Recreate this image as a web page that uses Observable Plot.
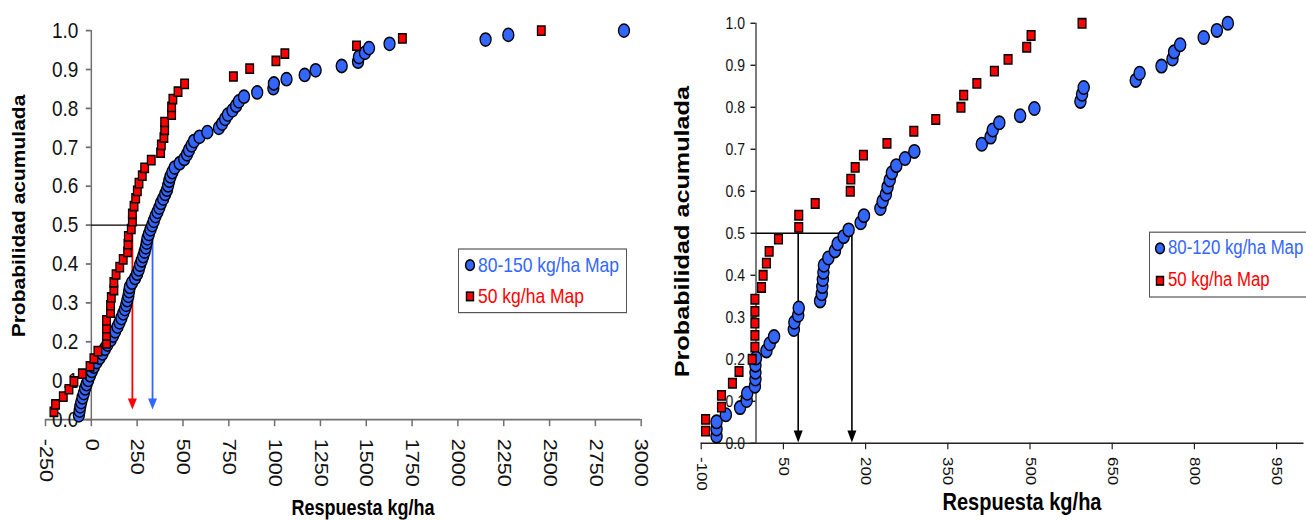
<!DOCTYPE html>
<html><head><meta charset="utf-8">
<script src="https://cdn.jsdelivr.net/npm/d3@7"></script>
<script src="https://cdn.jsdelivr.net/npm/@observablehq/plot@0.6"></script>
<style>
html,body{margin:0;padding:0;background:#fff;overflow:hidden;width:1306px;height:520px;}
#wrap{position:absolute;left:0;top:0;width:1306px;height:433.333px;transform:scaleY(1.2);transform-origin:0 0;font-family:"Liberation Sans",Arial,Helvetica,sans-serif;overflow:hidden;}
.title{position:absolute;font-weight:bold;white-space:nowrap;line-height:1;color:#000;}
.legend{position:absolute;border:1px solid #555;background:#fff;}
.item{position:absolute;white-space:nowrap;line-height:1;}
</style></head>
<body><div id="wrap"></div>
<script>
// ---------------- data ----------------
// Left panel: cumulative probability of response (kg/ha)
const leftBlueX = [-68,-64,-60,-55,-48,-41,-34,-26,-17,-7,
  3,14,29,45,61,74,88,106,119,130,
  143,154,164,174,183,190,196,202,206,210,
  222,239,250,259,266,275,283,291,297,302,
  306,314,323,332,341,350,361,371,380,392,
  403,413,419,425,432,442,455,482,507,522,
  533,547,560,590,633,696,714,730,745,770,
  790,805,833,905,993,996,1065,1164,1224,1366,
  1455,1460,1493,1515,1627,2151,2275,2906];
const leftBlueP = [0.011,0.023,0.034,0.045,0.057,0.068,0.080,0.091,0.102,0.114,
  0.125,0.136,0.148,0.159,0.170,0.182,0.193,0.205,0.216,0.227,
  0.239,0.250,0.261,0.273,0.284,0.295,0.307,0.318,0.330,0.341,
  0.352,0.364,0.375,0.386,0.398,0.409,0.420,0.432,0.443,0.455,
  0.466,0.477,0.489,0.500,0.511,0.523,0.534,0.545,0.557,0.568,
  0.580,0.591,0.602,0.614,0.625,0.636,0.648,0.659,0.670,0.682,
  0.693,0.705,0.716,0.727,0.739,0.750,0.761,0.773,0.784,0.795,
  0.807,0.818,0.830,0.841,0.852,0.864,0.875,0.886,0.898,0.909,
  0.920,0.932,0.943,0.955,0.966,0.977,0.989,1.000];
const leftRedX = [-204,-195,-153,-122,-95,-49,-7,14,36,83,
  83,83,83,105,105,109,123,123,135,155,
  174,198,200,202,218,224,224,233,242,251,
  260,278,291,327,378,382,396,400,400,438,
  438,445,473,509,775,864,1007,1056,1447,1697,2455];
const leftRedP = [0.020,0.039,0.059,0.078,0.098,0.118,0.137,0.157,0.176,0.196,
  0.216,0.235,0.255,0.275,0.294,0.314,0.333,0.353,0.373,0.392,
  0.412,0.431,0.451,0.471,0.490,0.510,0.529,0.549,0.569,0.588,
  0.608,0.627,0.647,0.667,0.686,0.706,0.725,0.745,0.765,0.784,
  0.804,0.824,0.843,0.863,0.882,0.902,0.922,0.941,0.961,0.980,1.000];
const leftMedians = [224, 334];          // red, blue
const leftXTicks = [-250,0,250,500,750,1000,1250,1500,1750,2000,2250,2500,2750,3000];

// Right panel
const rightBlueX = [-72,-72,-72,-55,-29,-17,-16,-2,-1,-1,
  -1,0,19,25,33,69,70,77,78,117,
  120,121,122,123,124,132,144,149,160,169,
  191,197,227,231,237,240,244,248,256,272,
  289,412,428,432,444,482,508,592,595,598,
  693,700,740,760,763,774,817,841,861];
const rightBlueP = [0.017,0.034,0.051,0.068,0.085,0.102,0.119,0.136,0.153,0.169,
  0.186,0.203,0.220,0.237,0.254,0.271,0.288,0.305,0.322,0.339,
  0.356,0.373,0.390,0.407,0.424,0.441,0.458,0.475,0.492,0.508,
  0.525,0.542,0.559,0.576,0.593,0.610,0.627,0.644,0.661,0.678,
  0.695,0.712,0.729,0.746,0.763,0.780,0.797,0.814,0.831,0.847,
  0.864,0.881,0.898,0.915,0.932,0.949,0.966,0.983,1.000];
const rightRedX = [-92,-92,-63,-63,-43,-31,-7,-2,-2,-2,
  -2,-2,10,13,19,24,41,78,78,108,
  172,173,181,196,239,288,328,374,379,403,
  435,460,494,502,595];
const rightRedP = [0.029,0.057,0.086,0.114,0.143,0.171,0.200,0.229,0.257,0.286,
  0.314,0.343,0.371,0.400,0.429,0.457,0.486,0.514,0.543,0.571,
  0.600,0.629,0.657,0.686,0.714,0.743,0.771,0.800,0.829,0.857,
  0.886,0.914,0.943,0.971,1.000];
const rightMedians = [77, 175];          // 50 kg/ha, 80-120 kg/ha
const rightXTicks = [-100,50,200,350,500,650,800,950];

const yTicks = [0,0.1,0.2,0.3,0.4,0.5,0.6,0.7,0.8,0.9,1.0];
const yTickLabels = ["0.0","0.1","0.2","0.3","0.4","0.5","0.6","0.7","0.8","0.9","1.0"];
const leftLegend = ["80-150 kg/ha Map", "50 kg/ha Map"];
const rightLegend = ["80-120 kg/ha Map", "50 kg/ha Map"];
const yTitle = "Probabilidad acumulada";
const xTitle = "Respuesta kg/ha";

// ---------------- drawing ----------------
const H = 433.333;
const FONT = '"Liberation Sans", Arial, Helvetica, sans-serif';
const BLUE = "#3366ff", RED = "#ff0000";
const wrap = document.getElementById("wrap");
const zip = (xs, ps) => xs.map((x, i) => ({x, p: ps[i]}));

function downTri(w, h) {
  return {draw(ctx) { ctx.moveTo(0, 0); ctx.lineTo(-w / 2, -h); ctx.lineTo(w / 2, -h); ctx.closePath(); }};
}

function panel(cfg) {
  const blue = zip(cfg.blueX, cfg.blueP);
  const red = zip(cfg.redX, cfg.redP);
  const tickStyle = {stroke: cfg.axisColor, strokeWidth: cfg.axisWidth};
  const marks = [
    Plot.ruleY([0], tickStyle),
    Plot.ruleX([0], {y1: 0, y2: 1, ...tickStyle}),
    Plot.ruleY(yTicks, {y: d => d, x1: 0, x2: 0, insetLeft: -5, ...tickStyle}),
    Plot.text(yTicks, {x: 0, y: d => d, text: (d, i) => yTickLabels[i], textAnchor: "end", dx: cfg.yLabelDx, fontSize: cfg.yFont, fill: "#111"}),
    Plot.axisX(cfg.xTicks, {tickFormat: d => String(d), tickRotate: 90, tickSize: cfg.tickSize, tickPadding: cfg.tickPadding, fontSize: cfg.xFont, label: null, stroke: cfg.axisColor, strokeWidth: cfg.axisWidth, fill: "#111"}),
    Plot.ruleY([0.5], {x1: 0, x2: cfg.medians[1], stroke: "#000", strokeWidth: 1.2}),
    Plot.ruleX([cfg.medians[0]], {y1: 0.5, y2: cfg.tip + 0.01, stroke: cfg.arrowColors[0], strokeWidth: cfg.arrowWidth}),
    Plot.ruleX([cfg.medians[1]], {y1: 0.5, y2: cfg.tip + 0.01, stroke: cfg.arrowColors[1], strokeWidth: cfg.arrowWidth}),
    Plot.dot([cfg.medians[0]], {x: d => d, y: cfg.tip, symbol: downTri(cfg.headW, cfg.headH), r: 4, fill: cfg.arrowColors[0], stroke: "none"}),
    Plot.dot([cfg.medians[1]], {x: d => d, y: cfg.tip, symbol: downTri(cfg.headW, cfg.headH), r: 4, fill: cfg.arrowColors[1], stroke: "none"}),
    Plot.dot(blue, {x: "x", y: "p", r: cfg.dotR, fill: BLUE, stroke: "#000", strokeWidth: 1.3}),
    Plot.dot(red, {x: "x", y: "p", symbol: "square", r: cfg.sqR, fill: RED, stroke: "#000", strokeWidth: 1.3})
  ];
  const svg = Plot.plot({
    width: cfg.width, height: H,
    marginLeft: cfg.mL, marginRight: cfg.mR, marginTop: cfg.mT, marginBottom: cfg.mB,
    x: {domain: cfg.xDomain, axis: null}, y: {domain: [0, 1], axis: null},
    style: {fontFamily: FONT, background: "transparent", color: "#000", overflow: "visible"},
    marks
  });
  svg.style.position = "absolute";
  svg.style.left = cfg.left + "px";
  svg.style.top = "0px";
  svg.style.maxWidth = "none";
  wrap.appendChild(svg);
}

panel({
  left: 0, width: 660, mL: 45, mR: 19.3, mT: 25, mB: H - 349.17,
  xDomain: [-250, 3000], xTicks: leftXTicks,
  blueX: leftBlueX, blueP: leftBlueP, redX: leftRedX, redP: leftRedP,
  medians: leftMedians, arrowColors: [RED, BLUE], tip: 0.026,
  axisColor: "#707070", axisWidth: 1.5, yLabelDx: -13, yFont: 19, xFont: 18,
  tickSize: 6, tickPadding: 10, dotR: 5.5, sqR: 4.3, arrowWidth: 1.8, headW: 9, headH: 9.2
});
panel({
  left: 660, width: 646, mL: 40.7, mR: 2.5, mT: 18.9, mB: H - 368.9,
  xDomain: [-100, 1000], xTicks: rightXTicks,
  blueX: rightBlueX, blueP: rightBlueP, redX: rightRedX, redP: rightRedP,
  medians: rightMedians, arrowColors: ["#000", "#000"], tip: 0.002,
  axisColor: "#222", axisWidth: 1.2, yLabelDx: -11, yFont: 14, xFont: 14,
  tickSize: 5.5, tickPadding: 6, dotR: 5.6, sqR: 4.4, arrowWidth: 1.6, headW: 9, headH: 10
});

// ---- titles ----
function title(text, cx, cy, size, rotate) {
  const d = document.createElement("div");
  d.className = "title";
  d.textContent = text;
  d.style.fontSize = size + "px";
  d.style.left = cx + "px";
  d.style.top = cy + "px";
  d.style.transform = "translate(-50%,-50%)" + (rotate ? " rotate(-90deg)" : "");
  wrap.appendChild(d);
}
title(yTitle, 20, 180, 17.5, true);
title(xTitle, 363, 423, 18, false);
title(yTitle, 681, 193, 21, true);
title(xTitle, 1022, 418, 20, false);

// ---- legends ----
function legend(box, items, size) {
  const b = document.createElement("div");
  b.className = "legend";
  Object.assign(b.style, {left: box.x + "px", top: box.y + "px", width: box.w + "px", height: box.h + "px"});
  wrap.appendChild(b);
  const ns = "http://www.w3.org/2000/svg";
  items.forEach((it, i) => {
    const cy = box.rows[i];
    const s = document.createElementNS(ns, "svg");
    s.setAttribute("width", 14); s.setAttribute("height", 14);
    s.style.position = "absolute";
    s.style.left = (box.mx - 7) + "px"; s.style.top = (cy - 7) + "px";
    let m;
    if (it.shape === "circle") {
      m = document.createElementNS(ns, "circle");
      m.setAttribute("cx", 7); m.setAttribute("cy", 7); m.setAttribute("r", 4.4);
    } else {
      m = document.createElementNS(ns, "rect");
      m.setAttribute("x", 3.5); m.setAttribute("y", 3.5); m.setAttribute("width", 7); m.setAttribute("height", 7);
    }
    m.setAttribute("fill", it.color); m.setAttribute("stroke", "#000"); m.setAttribute("stroke-width", 1.4);
    s.appendChild(m);
    wrap.appendChild(s);
    const t = document.createElement("div");
    t.className = "item";
    t.textContent = it.label;
    Object.assign(t.style, {left: box.tx + "px", top: cy + "px", transform: "translateY(-50%)", fontSize: size + "px", color: it.color});
    wrap.appendChild(t);
  });
}
legend({x: 458, y: 206.7, w: 167, h: 52, mx: 470, tx: 478, rows: [220.8, 247.2]},
  [{shape: "circle", color: BLUE, label: leftLegend[0]}, {shape: "square", color: RED, label: leftLegend[1]}], 17.5);
legend({x: 1149, y: 193, w: 200, h: 52.5, mx: 1160, tx: 1168, rows: [206.8, 233.9]},
  [{shape: "circle", color: BLUE, label: rightLegend[0]}, {shape: "square", color: RED, label: rightLegend[1]}], 16.8);
</script>
</body></html>
